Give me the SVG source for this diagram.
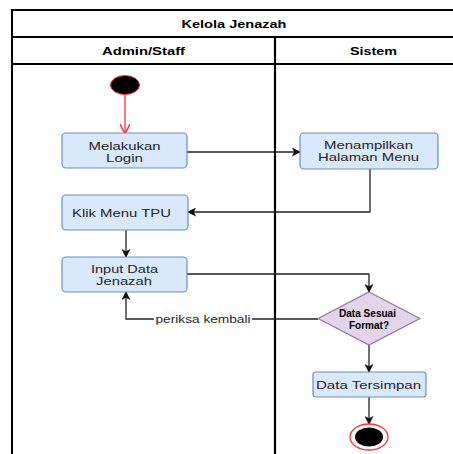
<svg xmlns="http://www.w3.org/2000/svg" width="453" height="454" viewBox="0 0 453 454">
<defs>
<style>
.pool{fill:#fff;stroke:#000;stroke-width:2}
.act{fill:#dae8fc;stroke:#6c8ebf;stroke-width:1.2}
.dec{fill:#e1d5e7;stroke:#9673a6;stroke-width:1.2}
.t{font-family:"Liberation Sans",Arial,sans-serif;font-size:11px;fill:#262626;text-anchor:middle}
.b{font-weight:bold;fill:#000}
.e{stroke:#222;stroke-width:1.3;fill:none}
</style>
<marker id="ah" viewBox="0 0 10 10" refX="9" refY="5" markerWidth="9" markerHeight="9" markerUnits="userSpaceOnUse" orient="auto">
<path d="M0,0 L10,5 L0,10 L2.5,5 Z" fill="#111"/>
</marker>
<marker id="ahr" viewBox="0 0 10 10" refX="9" refY="5" markerWidth="10" markerHeight="10" markerUnits="userSpaceOnUse" orient="auto">
<path d="M0,0 L10,5 L0,10" fill="none" stroke="#f33" stroke-width="1.5"/>
</marker>
</defs>
<rect width="453" height="454" fill="#fff"/>
<g id="pool">
<rect class="pool" x="12" y="10" width="460" height="460"/>
<line x1="12" y1="37" x2="472" y2="37" stroke="#000" stroke-width="2"/>
<line x1="12" y1="64" x2="472" y2="64" stroke="#000" stroke-width="2"/>
<line x1="275" y1="37" x2="275" y2="470" stroke="#000" stroke-width="2.2"/>
<text class="t b" x="234" y="27.5" font-size="9.5" textLength="105" lengthAdjust="spacingAndGlyphs">Kelola Jenazah</text>
<text class="t b" x="143.5" y="54.5" font-size="9.5" textLength="83" lengthAdjust="spacingAndGlyphs">Admin/Staff</text>
<text class="t b" x="373.5" y="54.5" font-size="9.5" textLength="47" lengthAdjust="spacingAndGlyphs">Sistem</text>
</g>
<g id="connectors">
<line x1="125" y1="95" x2="125" y2="133" stroke="#f33" stroke-width="1.3" marker-end="url(#ahr)"/>
<path class="e" d="M187,152 L300,152" marker-end="url(#ah)"/>
<path class="e" d="M370,169 L370,212 L188,212" marker-end="url(#ah)"/>
<path class="e" d="M126,230 L126,257" marker-end="url(#ah)"/>
<path class="e" d="M187,274 L369,274 L369,292" marker-end="url(#ah)"/>
<path class="e" d="M318,319 L126,319 L126,292" marker-end="url(#ah)"/>
<path class="e" d="M369,345 L369,372" marker-end="url(#ah)"/>
<path class="e" d="M369,397 L369,424" marker-end="url(#ah)"/>
<rect x="154" y="312" width="98" height="13" fill="#fff"/>
<text class="t" x="203" y="322.5" textLength="95" lengthAdjust="spacingAndGlyphs">periksa kembali</text>
</g>
<g id="start">
<ellipse cx="125" cy="85" rx="14.5" ry="9.5" fill="#000" stroke="#f33" stroke-width="1"/>
</g>
<g id="login">
<rect class="act" x="62" y="133" width="125" height="35" rx="4"/>
<text class="t" x="124.5" y="149.5" textLength="72" lengthAdjust="spacingAndGlyphs">Melakukan</text>
<text class="t" x="124.5" y="162" textLength="37" lengthAdjust="spacingAndGlyphs">Login</text>
</g>
<g id="menampilkan">
<rect class="act" x="300" y="133" width="138" height="36" rx="4"/>
<text class="t" x="368.5" y="149.3" textLength="89" lengthAdjust="spacingAndGlyphs">Menampilkan</text>
<text class="t" x="368.5" y="161" textLength="101" lengthAdjust="spacingAndGlyphs">Halaman Menu</text>
</g>
<g id="klik">
<rect class="act" x="62" y="195" width="126" height="35" rx="4"/>
<text class="t" x="121.5" y="217.3" textLength="99" lengthAdjust="spacingAndGlyphs">Klik Menu TPU</text>
</g>
<g id="input">
<rect class="act" x="62" y="257" width="125" height="35" rx="4"/>
<text class="t" x="124.5" y="273" textLength="67" lengthAdjust="spacingAndGlyphs">Input Data</text>
<text class="t" x="124" y="284.5" textLength="56" lengthAdjust="spacingAndGlyphs">Jenazah</text>
</g>
<g id="decision">
<path class="dec" d="M369,292 L420,318.5 L369,345 L318,318.5 Z"/>
<text class="t b" x="367.5" y="316.7" font-size="8" textLength="57" lengthAdjust="spacingAndGlyphs" fill="#222">Data Sesuai</text>
<text class="t b" x="369" y="329" font-size="8" textLength="40" lengthAdjust="spacingAndGlyphs">Format?</text>
</g>
<g id="tersimpan">
<rect class="act" x="313" y="372" width="113" height="25" rx="3"/>
<text class="t" x="368.5" y="389.3" font-size="11.5" textLength="105" lengthAdjust="spacingAndGlyphs">Data Tersimpan</text>
</g>
<g id="end">
<ellipse cx="369" cy="437" rx="19" ry="13" fill="#fff" stroke="#f33" stroke-width="1.3"/>
<ellipse cx="369" cy="437" rx="14" ry="9.5" fill="#000"/>
</g>
</svg>
